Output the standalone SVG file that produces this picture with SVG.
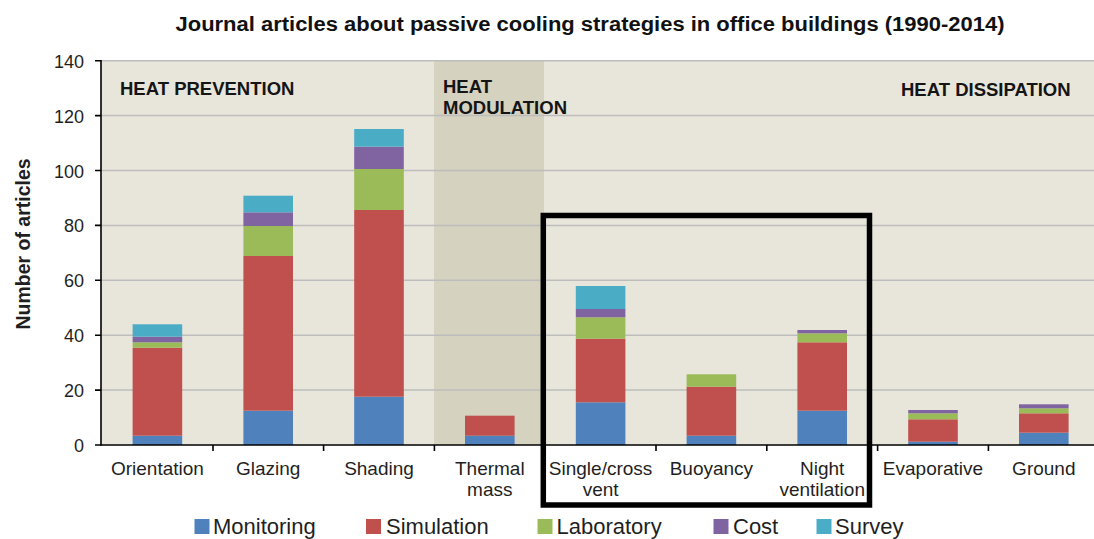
<svg xmlns="http://www.w3.org/2000/svg" width="1094" height="539" viewBox="0 0 1094 539">
<style>
.t{font-family:"Liberation Sans",Arial,sans-serif;fill:#1f1f1f}
.title{font-size:19.5px;font-weight:bold;fill:#111}
.sec{font-size:18.5px;font-weight:bold;fill:#151515}
.ytk{font-size:18px;text-anchor:end}
.cat{font-size:19px;text-anchor:middle}
.leg{font-size:22px}
.grid{stroke:#bdbdbd;stroke-width:1.5}
.ax{stroke:#000;stroke-width:1.6;fill:none}
.mon{fill:#4f81bd}.sim{fill:#c0504d}.lab{fill:#9bbb59}.cost{fill:#8064a2}.sur{fill:#4bacc6}
</style>
<rect width="1094" height="539" fill="#fff"/>
<text class="t title" x="590" y="31" text-anchor="middle" textLength="829" lengthAdjust="spacingAndGlyphs">Journal articles about passive cooling strategies in office buildings (1990-2014)</text>
<g id="plot">
<rect x="101" y="60.7" width="993" height="384.3" fill="#e8e6db"/>
<rect x="434" y="60.7" width="110" height="384.3" fill="#d5d2bf"/>
<g id="gridlines">
<line class="grid" x1="101" y1="60.7" x2="1094" y2="60.7"/>
<line class="grid" x1="101" y1="115.6" x2="1094" y2="115.6"/>
<line class="grid" x1="101" y1="170.5" x2="1094" y2="170.5"/>
<line class="grid" x1="101" y1="225.4" x2="1094" y2="225.4"/>
<line class="grid" x1="101" y1="280.3" x2="1094" y2="280.3"/>
<line class="grid" x1="101" y1="335.2" x2="1094" y2="335.2"/>
<line class="grid" x1="101" y1="390.1" x2="1094" y2="390.1"/>
</g>
</g>
<g id="sections">
<text class="t sec" x="120" y="95">HEAT PREVENTION</text>
<text class="t sec" x="443" y="93">HEAT</text>
<text class="t sec" x="443" y="114">MODULATION</text>
<text class="t sec" x="901" y="96">HEAT DISSIPATION</text>
</g>
<g id="bars">
<g id="bar-orientation">
<rect class="mon" x="132.6" y="435.7" width="49.6" height="9.3"/>
<rect class="sim" x="132.6" y="347.7" width="49.6" height="88"/>
<rect class="lab" x="132.6" y="342.3" width="49.6" height="5.4"/>
<rect class="cost" x="132.6" y="336.7" width="49.6" height="5.6"/>
<rect class="sur" x="132.6" y="324.3" width="49.6" height="12.4"/>
</g>
<g id="bar-glazing">
<rect class="mon" x="243.4" y="410.7" width="49.6" height="34.3"/>
<rect class="sim" x="243.4" y="256" width="49.6" height="154.7"/>
<rect class="lab" x="243.4" y="226" width="49.6" height="30"/>
<rect class="cost" x="243.4" y="212.3" width="49.6" height="13.7"/>
<rect class="sur" x="243.4" y="195.7" width="49.6" height="16.6"/>
</g>
<g id="bar-shading">
<rect class="mon" x="354.2" y="396.7" width="49.6" height="48.3"/>
<rect class="sim" x="354.2" y="210" width="49.6" height="186.7"/>
<rect class="lab" x="354.2" y="169" width="49.6" height="41"/>
<rect class="cost" x="354.2" y="146.7" width="49.6" height="22.3"/>
<rect class="sur" x="354.2" y="129" width="49.6" height="17.7"/>
</g>
<g id="bar-thermal">
<rect class="mon" x="465" y="435.7" width="49.6" height="9.3"/>
<rect class="sim" x="465" y="415.7" width="49.6" height="20"/>
</g>
<g id="bar-single">
<rect class="mon" x="575.8" y="402.3" width="49.6" height="42.7"/>
<rect class="sim" x="575.8" y="338.7" width="49.6" height="63.6"/>
<rect class="lab" x="575.8" y="317.3" width="49.6" height="21.4"/>
<rect class="cost" x="575.8" y="309" width="49.6" height="8.3"/>
<rect class="sur" x="575.8" y="286" width="49.6" height="23"/>
</g>
<g id="bar-buoyancy">
<rect class="mon" x="686.6" y="435.7" width="49.6" height="9.3"/>
<rect class="sim" x="686.6" y="386.7" width="49.6" height="49"/>
<rect class="lab" x="686.6" y="374.3" width="49.6" height="12.4"/>
</g>
<g id="bar-night">
<rect class="mon" x="797.4" y="410.7" width="49.6" height="34.3"/>
<rect class="sim" x="797.4" y="342.3" width="49.6" height="68.4"/>
<rect class="lab" x="797.4" y="333.3" width="49.6" height="9"/>
<rect class="cost" x="797.4" y="330" width="49.6" height="3.3"/>
</g>
<g id="bar-evaporative">
<rect class="mon" x="908.2" y="441.7" width="49.6" height="3.3"/>
<rect class="sim" x="908.2" y="419.3" width="49.6" height="22.4"/>
<rect class="lab" x="908.2" y="413.3" width="49.6" height="6"/>
<rect class="cost" x="908.2" y="410" width="49.6" height="3.3"/>
</g>
<g id="bar-ground">
<rect class="mon" x="1019" y="432.7" width="49.6" height="12.3"/>
<rect class="sim" x="1019" y="413.3" width="49.6" height="19.4"/>
<rect class="lab" x="1019" y="408.3" width="49.6" height="5"/>
<rect class="cost" x="1019" y="404.3" width="49.6" height="4"/>
</g>
</g>
<g id="axes">
<line class="ax" x1="101" y1="60" x2="101" y2="445.8"/>
<line class="ax" x1="95" y1="445" x2="1094" y2="445"/>
<path class="ax" d="M95 60.7H101M95 115.6H101M95 170.5H101M95 225.4H101M95 280.3H101M95 335.2H101M95 390.1H101"/>
<path class="ax" d="M213 445V451M323.6 445V451M434.4 445V451M545.2 445V451M656 445V451M766.8 445V451M877.6 445V451M988.4 445V451"/>
</g>
<g id="yticks">
<text class="t ytk" x="84" y="67.7">140</text>
<text class="t ytk" x="84" y="122.6">120</text>
<text class="t ytk" x="84" y="177.5">100</text>
<text class="t ytk" x="84" y="232.4">80</text>
<text class="t ytk" x="84" y="287.3">60</text>
<text class="t ytk" x="84" y="342.2">40</text>
<text class="t ytk" x="84" y="397.1">20</text>
<text class="t ytk" x="84" y="452">0</text>
</g>
<text class="t" x="0" y="0" transform="translate(30 244) rotate(-90)" text-anchor="middle" font-size="19.5" font-weight="bold" fill="#111">Number of articles</text>
<g id="categories">
<text class="t cat" x="157.4" y="475">Orientation</text>
<text class="t cat" x="268.2" y="475">Glazing</text>
<text class="t cat" x="379" y="475">Shading</text>
<text class="t cat" x="489.8" y="475">Thermal</text>
<text class="t cat" x="489.8" y="496">mass</text>
<text class="t cat" x="600.6" y="475">Single/cross</text>
<text class="t cat" x="600.6" y="496">vent</text>
<text class="t cat" x="711.4" y="475">Buoyancy</text>
<text class="t cat" x="822.2" y="475">Night</text>
<text class="t cat" x="822.2" y="496">ventilation</text>
<text class="t cat" x="933" y="475">Evaporative</text>
<text class="t cat" x="1043.8" y="475">Ground</text>
</g>
<g id="highlight">
<rect x="543.3" y="215.5" width="326.2" height="289.5" fill="none" stroke="#000" stroke-width="5.5"/>
</g>
<g id="legend">
<rect class="mon" x="194.5" y="519" width="15" height="15"/>
<text class="t leg" x="213" y="534">Monitoring</text>
<rect class="sim" x="366" y="519" width="15" height="15"/>
<text class="t leg" x="386" y="534">Simulation</text>
<rect class="lab" x="537.5" y="519" width="15" height="15"/>
<text class="t leg" x="556.5" y="534">Laboratory</text>
<rect class="cost" x="713.5" y="519" width="15" height="15"/>
<text class="t leg" x="733" y="534">Cost</text>
<rect class="sur" x="816.5" y="519" width="15" height="15"/>
<text class="t leg" x="835" y="534">Survey</text>
</g>
</svg>
